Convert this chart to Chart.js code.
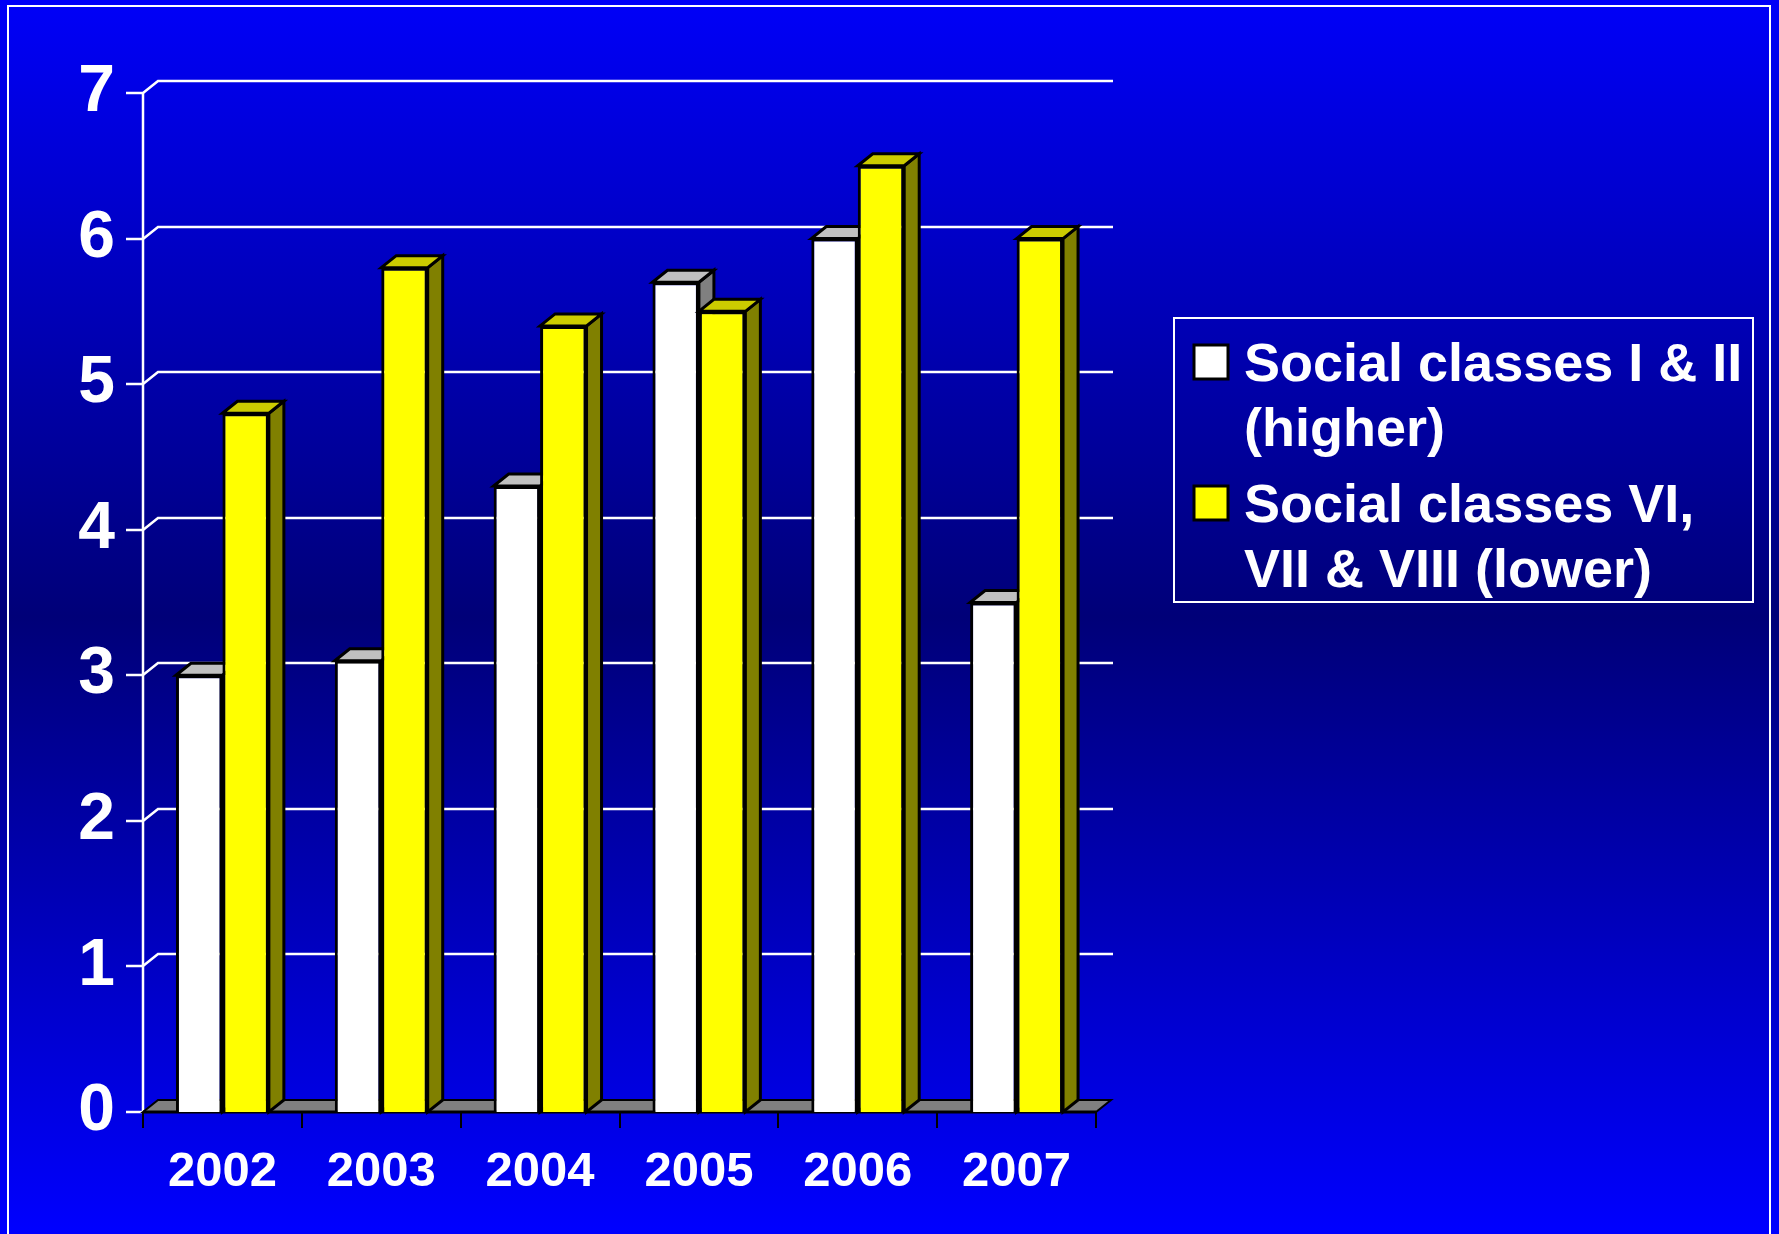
<!DOCTYPE html>
<html>
<head>
<meta charset="utf-8">
<title>Social classes I &amp; II vs VI, VII &amp; VIII, 2002–2007</title>
<script src="https://cdn.jsdelivr.net/npm/chart.js@4/dist/chart.umd.min.js"></script>
<style>
  html, body { margin: 0; padding: 0; }
  body {
    width: 1779px; height: 1234px; overflow: hidden; position: relative;
    background: linear-gradient(to bottom, #0000f8 0%, #000078 50%, #0000ff 100%);
  }
  #frame {
    position: absolute; left: 7px; top: 5px; width: 1764px; height: 1240px;
    border: 2px solid #ffffff; box-sizing: border-box;
  }
  #c { position: absolute; left: 0; top: 0; }
</style>
</head>
<body>
<div id="frame"></div>
<canvas id="c" width="1779" height="1234"></canvas>
<script>
// Categories and series
const years = ['2002', '2003', '2004', '2005', '2006', '2007'];
const higherClasses = [3.0, 3.1, 4.3, 5.7, 6.0, 3.5];
const lowerClasses = [4.8, 5.8, 5.4, 5.5, 6.5, 6.0];
const seriesNames = ['Social classes I & II (higher)', 'Social classes VI, VII & VIII (lower)'];
const yTicks = [0, 1, 2, 3, 4, 5, 6, 7];

const FONT = "'Liberation Sans', Arial, Helvetica, sans-serif";
const DX = 15, DY = 12; // depth offset of the 3D box

const faceColors = [
  { front: '#ffffff', top: '#c0c0c0', side: '#808080' },
  { front: '#ffff00', top: '#cccc00', side: '#808000' }
];

function poly(ctx, pts, fill, stroke, lw) {
  ctx.beginPath();
  ctx.moveTo(pts[0][0], pts[0][1]);
  for (let i = 1; i < pts.length; i++) ctx.lineTo(pts[i][0], pts[i][1]);
  ctx.closePath();
  ctx.fillStyle = fill;
  ctx.fill();
  ctx.lineJoin = 'miter';
  ctx.strokeStyle = stroke;
  ctx.lineWidth = lw;
  ctx.stroke();
}

// Back wall, axis lines, floor, and the 3D bars drawn left series first
const wall3d = {
  id: 'wall3d',
  beforeDatasetsDraw(chart) {
    const { ctx, chartArea: a, scales: { y } } = chart;
    ctx.save();
    ctx.strokeStyle = '#ffffff';
    ctx.lineWidth = 2.5;
    yTicks.forEach(v => {
      const py = Math.round(y.getPixelForValue(v));
      ctx.beginPath();
      ctx.moveTo(a.left - 17, py);
      ctx.lineTo(a.left, py);
      if (v > 0) {
        ctx.lineTo(a.left + DX, py - DY);
        ctx.lineTo(a.right + DX + 2, py - DY);
      }
      ctx.stroke();
    });
    ctx.beginPath();
    ctx.moveTo(a.left, y.getPixelForValue(yTicks[yTicks.length - 1]));
    ctx.lineTo(a.left, a.bottom);
    ctx.stroke();

    // floor
    poly(ctx, [[a.left, a.bottom], [a.right, a.bottom], [a.right + DX, a.bottom - DY], [a.left + DX, a.bottom - DY]],
      '#808080', '#000000', 2);
    ctx.beginPath();
    ctx.strokeStyle = '#000000';
    ctx.lineWidth = 3;
    ctx.moveTo(a.left, a.bottom);
    ctx.lineTo(a.right, a.bottom);
    ctx.stroke();
    // category tick marks
    ctx.lineWidth = 2;
    const step = (a.right - a.left) / years.length;
    for (let i = 0; i <= years.length; i++) {
      const px = Math.round(a.left + i * step);
      ctx.beginPath();
      ctx.moveTo(px, a.bottom);
      ctx.lineTo(px, a.bottom + 16);
      ctx.stroke();
    }
    ctx.restore();
  },
  // the library's own pass is skipped; bars are drawn below in series order
  beforeDatasetDraw() { return false; },
  afterDatasetsDraw(chart) {
    const { ctx } = chart;
    ctx.save();
    chart.getSortedVisibleDatasetMetas()
      .slice()
      .sort((m1, m2) => m1.index - m2.index)
      .forEach(meta => {
        const col = faceColors[meta.index];
        meta.data.forEach(bar => {
          bar.draw(ctx, chart.chartArea);
          const p = bar.getProps(['x', 'y', 'base', 'width'], true);
          const l = p.x - p.width / 2, r = p.x + p.width / 2;
          const t = p.y, b = p.base;
          poly(ctx, [[r, t], [r + DX, t - DY], [r + DX, b - DY], [r, b]], col.side, '#000000', 3);
          poly(ctx, [[l, t], [l + DX, t - DY], [r + DX, t - DY], [r, t]], col.top, '#000000', 3);
        });
      });
    ctx.restore();
  }
};

// Boxed legend with wrapped labels
const boxLegend = {
  id: 'boxLegend',
  afterDraw(chart) {
    const { ctx } = chart;
    const bx = 1174, by = 318, bw = 579, bh = 284;
    ctx.save();
    ctx.strokeStyle = '#ffffff';
    ctx.lineWidth = 2;
    ctx.strokeRect(bx, by, bw, bh);
    ctx.font = 'bold 54px ' + FONT;
    ctx.textBaseline = 'alphabetic';
    const maxW = 525, lineH = 65, itemGap = 76;
    let baseY = 381;
    chart.data.datasets.forEach(ds => {
      const words = ds.label.split(' ');
      const lines = [];
      let cur = '';
      words.forEach(w => {
        const test = cur ? cur + ' ' + w : w;
        if (ctx.measureText(test).width > maxW && cur) { lines.push(cur); cur = w; }
        else cur = test;
      });
      lines.push(cur);
      ctx.fillStyle = ds.backgroundColor;
      ctx.fillRect(1194, baseY - 36, 34, 34);
      ctx.strokeStyle = '#000000';
      ctx.lineWidth = 3;
      ctx.strokeRect(1194, baseY - 36, 34, 34);
      ctx.fillStyle = '#ffffff';
      lines.forEach((ln, j) => ctx.fillText(ln, 1244, baseY + j * lineH));
      baseY += (lines.length - 1) * lineH + itemGap;
    });
    ctx.restore();
  }
};

new Chart(document.getElementById('c'), {
  type: 'bar',
  data: {
    labels: years,
    datasets: [
      { label: seriesNames[0], data: higherClasses, backgroundColor: faceColors[0].front,
        borderColor: '#000000', borderWidth: 3 },
      { label: seriesNames[1], data: lowerClasses, backgroundColor: faceColors[1].front,
        borderColor: '#000000', borderWidth: 3 }
    ]
  },
  options: {
    responsive: false,
    animation: false,
    devicePixelRatio: 1,
    layout: { padding: { top: 93, right: 683, left: 0, bottom: 0 } },
    plugins: { legend: { display: false }, tooltip: { enabled: false } },
    datasets: { bar: { categoryPercentage: 0.585, barPercentage: 1.0 } },
    scales: {
      x: {
        grid: { display: false, drawTicks: false },
        border: { display: false },
        ticks: { color: '#ffffff', font: { family: FONT, size: 49, weight: 'bold' }, padding: 31, maxRotation: 0 },
        afterFit(scale) { scale.height = 122; }
      },
      y: {
        min: 0, max: 7,
        grid: { display: false, drawTicks: false },
        border: { display: false },
        ticks: { stepSize: 1, color: '#ffffff', font: { family: FONT, size: 66, weight: 'bold' }, padding: 28 },
        afterFit(scale) { scale.width = 143; }
      }
    }
  },
  plugins: [wall3d, boxLegend]
});
</script>
</body>
</html>
